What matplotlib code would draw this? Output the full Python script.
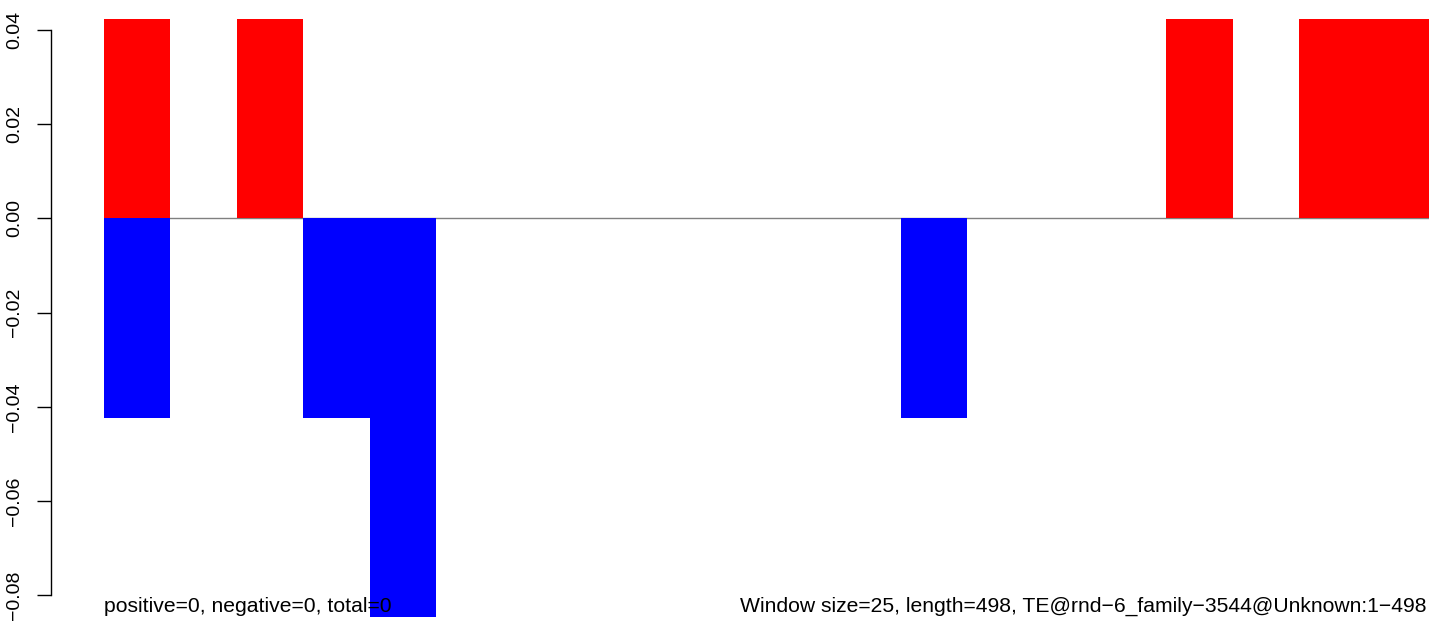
import numpy as np
import matplotlib.pyplot as plt

plt.rcParams['font.family'] = ['Liberation Sans', 'DejaVu Sans']

# 20 windows of 25 bp along a 498 bp element
windows = np.arange(20)
positive = [0.0423, 0, 0.0423, 0, 0, 0, 0, 0, 0, 0,
            0, 0, 0, 0, 0, 0, 0.0423, 0, 0.0423, 0.0423]
negative = [-0.0423, 0, 0, -0.0423, -0.0846, 0, 0, 0, 0, 0,
            0, 0, -0.0423, 0, 0, 0, 0, 0, 0, 0]
yticks = [-0.08, -0.06, -0.04, -0.02, 0.00, 0.02, 0.04]

fig = plt.figure(figsize=(14.29, 6.21), dpi=100)
ax = fig.add_axes([104 / 1429, 4 / 621, 1328 / 1429, 598 / 621])

ax.axhline(0, color='#808080', linewidth=1, zorder=1)
ax.bar(windows, positive, width=1, align='edge', color='red', linewidth=0, zorder=2)
ax.bar(windows, negative, width=1, align='edge', color='blue', linewidth=0, zorder=2)

ax.set_xlim(0, 20)
ax.set_ylim(min(negative), max(positive))

for s in ['top', 'right', 'bottom']:
    ax.spines[s].set_visible(False)
ax.spines['left'].set_position(('outward', 38))
ax.spines['left'].set_bounds(-0.08, 0.04)
ax.spines['left'].set_linewidth(1)
ax.set_xticks([])
ax.set_yticks(yticks)
ax.set_yticklabels([('%.2f' % v).replace('-', '\u2212') for v in yticks],
                   rotation=90, va='center', fontsize=14)
ax.tick_params(axis='y', length=10, width=1, pad=10)

ax.text(0, 0.017, 'positive=0, negative=0, total=0', transform=ax.transAxes,
        ha='left', va='center', fontsize=15.2, clip_on=False)
ax.text(0.479, 0.017, 'Window size=25, length=498, TE@rnd\u22126_family\u22123544@Unknown:1\u2212498',
        transform=ax.transAxes, ha='left', va='center', fontsize=15.2, clip_on=False)

fig.savefig('out.png', dpi=100)
